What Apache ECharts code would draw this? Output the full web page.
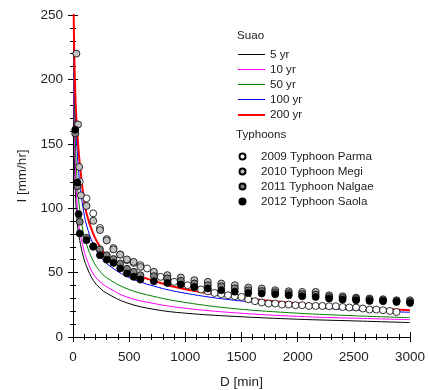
<!DOCTYPE html>
<html lang="en">
<head>
    <meta charset="UTF-8">
    <title>IDF Suao</title>
    <script src="https://cdn.jsdelivr.net/npm/echarts@6/dist/echarts.min.js"></script>
</head>
<body style="margin:0;background:#fff">
    <div id="ec" style="width:428px;height:390px"></div>
</body>
<script>
    // durations (min) used for the design curves
    var dur = [5, 10, 20, 30, 45, 60, 90, 120, 180, 240, 300, 480, 720, 1000, 1440, 2000, 2500, 3000]
    var yr5   = [190, 150, 115, 98, 83, 75, 63, 55, 44, 38, 34, 26.5, 21.5, 18.5, 16, 13.8, 12.5, 11.2]
    var yr10  = [215, 170, 135, 113, 93, 82, 70, 61, 49, 43, 39, 31, 26, 22.3, 18.8, 16, 14.6, 13.5]
    var yr50  = [235, 195, 155, 133, 112, 99, 82, 72, 59, 51, 46, 37.5, 31.5, 26.8, 22, 18.5, 16.5, 15]
    var yr100 = [245, 210, 175, 155, 135, 120, 100, 87, 72, 63, 57, 47, 39.5, 34, 28.5, 24, 21, 19.2]
    var yr200 = [262, 225, 190, 170, 150, 135, 112, 96, 80, 70, 63, 52, 43.5, 37, 31, 26, 23, 20.8]

    // typhoon observations [D, I]
    var parma = [[60,120.5],[120,107.6],[180,96],[240,84.6],[300,76],[360,69],[420,64],[480,59.7],[540,57.5],[600,55.8],
        [660,53.2],[720,49.5],[780,46.7],[840,44.5],[900,42.8],[960,41.3],[1020,40.2],[1080,38.5],[1140,36.9],[1200,35.5],
        [1260,34.2],[1320,33.3],[1380,32.4],[1440,31.7],[1500,31.1],[1560,29.3],[1620,27.8],[1680,26.8],[1740,26],[1800,26],
        [1860,25.2],[1920,25.2],[1980,24.7],[2040,24.7],[2100,24.1],[2160,24.1],[2220,24.1],[2280,23.9],[2340,23.9],[2400,23.3],
        [2460,22.9],[2520,22.9],[2580,22.1],[2640,21.3],[2700,21.3],[2760,20.8],[2820,20.2],[2880,19.4]]
    var megi = [[30,220],[45,165],[55,132],[70,110],[120,101.7],[180,90.2],[240,83],[300,75],[360,68],[420,64],[480,60.2],
        [540,58.3],[600,54.4],[720,50.6],[840,48],[960,46.2],[1080,44.1],[1200,42.8],[1320,41.5],[1440,40.2],[1560,38.4],
        [1680,37.6],[1800,36.3],[1920,35.5],[2040,35],[2160,35],[2280,32.4],[2400,31.6],[2520,30.6],[2640,29.9],[2760,29.3],
        [2880,28.5],[3000,28.5]]
    var nalgae = [[20,158],[40,117],[60,89.5],[120,77],[180,70],[240,68],[300,63.5],[360,60.5],[420,57],[480,53],[540,50.6],
        [600,48],[720,47.2],[840,45.5],[960,43.6],[1080,41.5],[1200,40.2],[1320,39.4],[1440,37.8],[1560,36.3],[1680,35.7],
        [1800,34.8],[1920,34],[2040,33.3],[2160,33],[2280,31.2],[2400,30.4],[2520,29.6],[2640,29],[2760,28.5],[2880,27.9],[3000,27.5]]
    var saola = [[20,161],[40,120],[50,95.4],[60,80.4],[120,75.2],[180,70.5],[240,63.5],[300,60],[360,57.5],[420,53.2],
        [480,49.3],[540,46.7],[600,44.6],[720,43.3],[840,42],[960,40.8],[1080,38.9],[1200,37.6],[1320,36.3],[1440,35.2],
        [1560,34.2],[1680,33.8],[1800,33.2],[1920,32.4],[2040,31.6],[2160,31.1],[2280,29.9],[2400,29.1],[2520,28.5],[2640,28],
        [2760,27.8],[2880,27.2],[3000,26.4]]

    var curveNames = ['5 yr', '10 yr', '50 yr', '100 yr', '200 yr']
    var curveVals = [yr5, yr10, yr50, yr100, yr200]
    var curveColors = ['#000000', '#ff00ff', '#008000', '#0000ff', '#ff0000']
    var curveWidths = [1, 1, 1, 1, 2]
    var tyNames = ['2009 Typhoon Parma', '2010 Typhoon Megi', '2011 Typhoon Nalgae', '2012 Typhoon Saola']
    var tyData = [parma, megi, nalgae, saola]
    var tyColors = ['#ffffff', '#c0c0c0', '#808080', '#000000']

    var font = 'Liberation Sans, Arial, sans-serif'
    var txt = '#222'

    function pairs(vals) {
        return dur.map(function (d, i) { return [d, vals[i]] })
    }

    var series = []
    curveNames.forEach(function (n, i) {
        series.push({
            name: n, type: 'line', data: pairs(curveVals[i]), smooth: 0.4,
            symbol: 'none', xAxisIndex: 0, yAxisIndex: 0,
            lineStyle: {color: curveColors[i], width: curveWidths[i]},
            itemStyle: {color: curveColors[i]}, z: 2
        })
    })
    tyNames.forEach(function (n, i) {
        series.push({
            name: n, type: 'scatter', data: tyData[i], symbol: 'circle', symbolSize: 7,
            xAxisIndex: 0, yAxisIndex: 0,
            itemStyle: {color: tyColors[i], borderColor: '#000', borderWidth: 0.8, opacity: 1}, z: 3 + i
        })
    })

    var legText = {fontFamily: font, fontSize: 11.6, color: txt, lineHeight: 15}
    var axLine = {lineStyle: {color: '#000', width: 1}}
    var tick = {show: true, inside: true, length: 5, lineStyle: {color: '#000'}}
    var minor = {show: true, splitNumber: 5, length: 3, lineStyle: {color: '#000'}}
    var mychart = echarts.init(document.getElementById('ec'))
    mychart.setOption({
        animation: false,
        backgroundColor: '#fff',
        grid: {left: 73, right: 18, top: 15, bottom: 53, containLabel: false, outerBoundsMode: 'none'},
        xAxis: [{
            type: 'value', min: 0, max: 3000, interval: 500,
            name: 'D [min]', nameLocation: 'middle', nameGap: 38,
            nameTextStyle: {fontFamily: font, fontSize: 13.5, color: txt},
            axisLine: axLine, axisTick: tick, minorTick: minor,
            axisLabel: {fontFamily: font, fontSize: 13.5, color: txt, margin: 13,
                formatter: function (v) { return String(v) }},
            splitLine: {show: false}
        }, {
            type: 'value', position: 'top', min: 0, max: 3000, interval: 500,
            axisLine: axLine, axisTick: tick, minorTick: minor,
            axisLabel: {show: false}, splitLine: {show: false}
        }],
        yAxis: [{
            type: 'value', min: 0, max: 250, interval: 50,
            name: 'I [mm/hr]', nameLocation: 'middle', nameGap: 42, nameRotate: 90,
            nameTextStyle: {fontFamily: font, fontSize: 13.5, color: txt},
            axisLine: {show: true, lineStyle: {color: '#000', width: 1}},
            axisTick: tick, minorTick: minor,
            axisLabel: {fontFamily: font, fontSize: 13.5, color: txt, margin: 10},
            splitLine: {show: false}
        }, {
            type: 'value', position: 'right', min: 0, max: 250, interval: 50,
            axisLine: {show: true, lineStyle: {color: '#000', width: 1}},
            axisTick: tick, minorTick: minor,
            axisLabel: {show: false}, splitLine: {show: false}
        }],
        legend: [{
            data: curveNames.slice(0, 4).map(function (n) { return {name: n, icon: 'rect'} }),
            orient: 'vertical', left: 238, top: 47, padding: 0,
            itemWidth: 27, itemHeight: 1, itemGap: 0, textStyle: legText
        }, {
            data: [{name: curveNames[4], icon: 'rect'}],
            orient: 'vertical', left: 238, top: 107.5, padding: 0,
            itemWidth: 27, itemHeight: 2, itemGap: 0, textStyle: legText
        }, {
            data: tyNames, orient: 'vertical', left: 238.5, top: 149, padding: 0,
            itemWidth: 27, itemHeight: 6, itemGap: 0, textStyle: legText
        }],
        graphic: [
            {type: 'text', left: 237, top: 30, style: {text: 'Suao', font: '11.6px ' + font, fill: txt}},
            {type: 'text', left: 236, top: 129, style: {text: 'Typhoons', font: '11.6px ' + font, fill: txt}}
        ],
        series: series
    })
</script>
</html>
